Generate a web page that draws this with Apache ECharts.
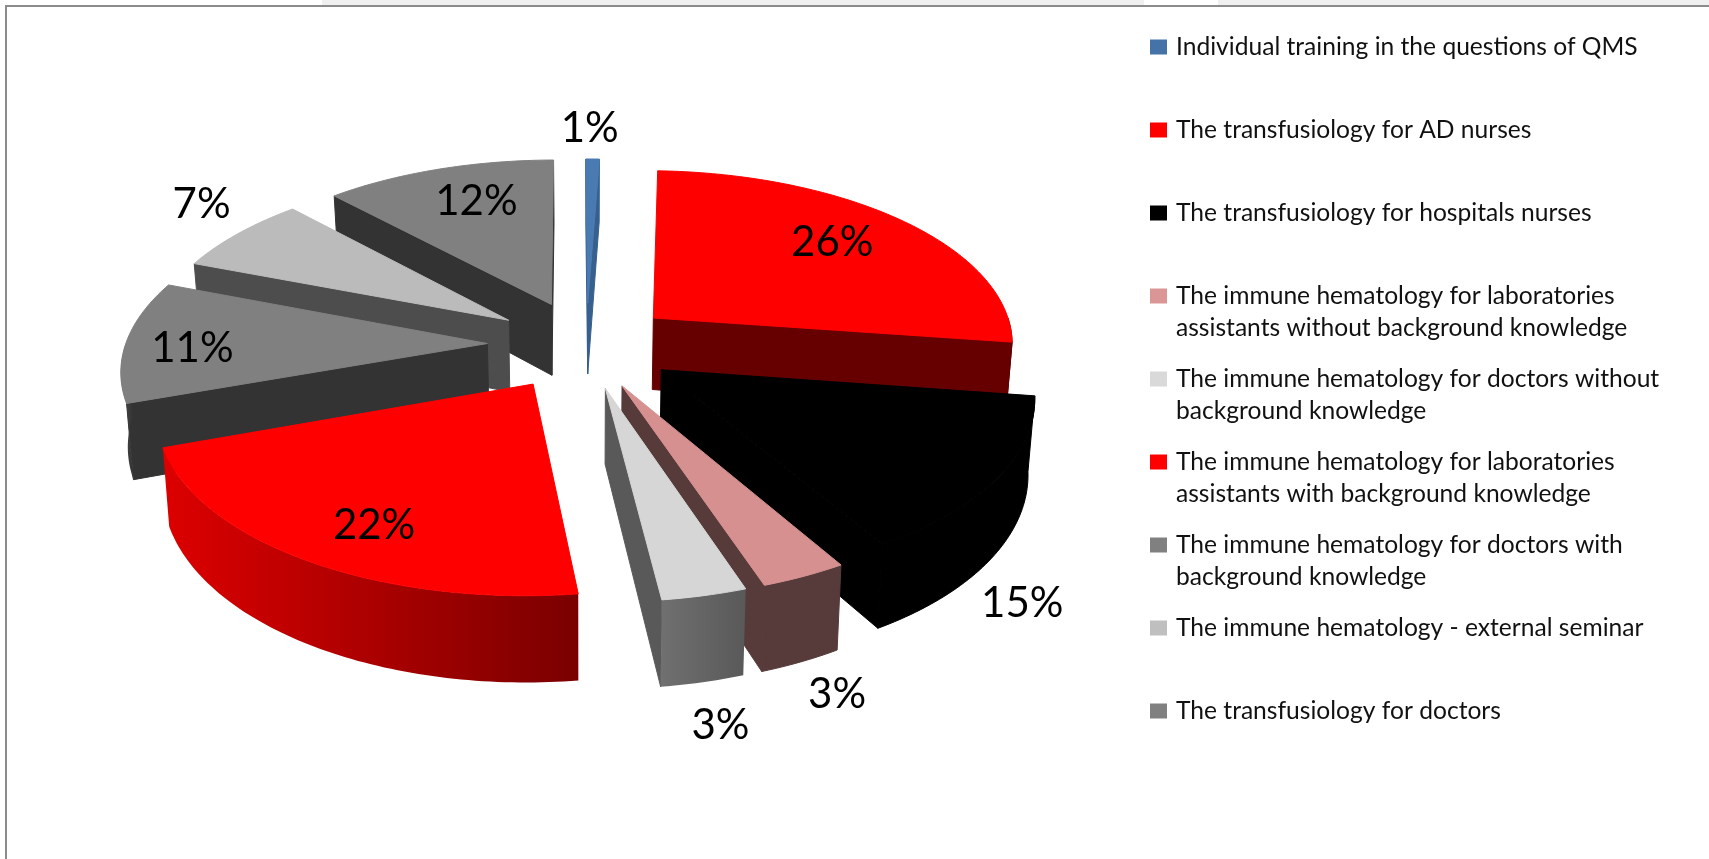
<!DOCTYPE html>
<html>
<head>
<meta charset="utf-8">
<style>html,body{margin:0;padding:0;background:#fff}#c{width:1709px;height:859px}</style>
<script src="https://cdn.jsdelivr.net/npm/echarts@6/dist/echarts.min.js"></script>
</head>
<body>
<div id="c"></div>
<script>
// ---- data ----
const categories = [
  'Individual training in the questions of QMS',
  'The transfusiology for AD nurses',
  'The transfusiology for hospitals nurses',
  'The immune hematology for laboratories\nassistants without background knowledge',
  'The immune hematology for doctors without\nbackground knowledge',
  'The immune hematology for laboratories\nassistants with background knowledge',
  'The immune hematology for doctors with\nbackground knowledge',
  'The immune hematology - external seminar',
  'The transfusiology for doctors'
];
const values = [1, 26, 15, 3, 3, 22, 11, 7, 12];

// ---- styles ----
const legendColors = ['#4573A7', '#FF0000', '#000000', '#D99694', '#D9D9D9', '#FF0000', '#808080', '#BFBFBF', '#808080'];
const topColors    = ['#4A7AB2', '#FF0000', '#000000', '#D69090', '#D6D6D6', '#FF0000', '#808080', '#BBBBBB', '#808080'];
const sideColors   = ['#37608F', '#660000', '#000000', '#573B3B', '#595959', '#7A0000', '#333333', '#4D4D4D', '#333333'];
const arcStops     = [null, null, null, null, ['#707070', '#595959'], ['#DD0000', '#7A0000'], ['#4A4A4A', '#333333'], null, null];

// ---- layout of the tilted pie ----
const CX = 585, CY = 345, RX = 362, RY = 173, PERSP = 0.13, DEPTH = 73, BOTTOM_SCALE = 0.985;
// the source's values are rounded and its 3-D view warps angles: small per-boundary corrections, in degrees
const boundaryNudge = [-0.3, -1.4, 1, -1.7, -0.7, 0.1, -1.4, -0.8, 0];
const explode = [0.25, 0.25, 0.25, 0.25, 0.25, 0.26, 0.27, 0.26, 0.26];
// label centres, relative to each slice's apex
const labelOffsets = [[2,-175],[179,-76],[361,234],[215,309],[115,337],[-159,141],[-295,5],[-307,-116],[-75,-103]];
const LEG_LEFT = 1150, LEG_FIRST = 47, LEG_STEP = 83, LEG_LINE = 32;

const total = values.reduce((a, b) => a + b, 0);
const rad = d => d * Math.PI / 180;
let acc = 0;
const slices = values.map((v, i) => {
  const base = acc / total * 360; acc += v;
  const baseEnd = acc / total * 360;
  const start = base + boundaryNudge[i];
  const end = baseEnd + boundaryNudge[(i + 1) % values.length];
  const mid = rad((base + baseEnd) / 2);
  return { i, start, end, ex: explode[i] * Math.sin(mid), ey: -explode[i] * Math.cos(mid) };
});
function project(X, Y, level) {
  const s = 1 / (1 - PERSP * Y);
  return [CX + RX * X * s * (level ? BOTTOM_SCALE : 1), CY + RY * Y * s + level * DEPTH * s];
}
function rim(sl, deg, level) {
  return project(sl.ex + Math.sin(rad(deg)), sl.ey - Math.cos(rad(deg)), level);
}
function area(p) {
  let a = 0;
  for (let k = 0; k < p.length; k++) {
    const q = p[(k + 1) % p.length];
    a += p[k][0] * q[1] - q[0] * p[k][1];
  }
  return a;
}
function poly(points, fill) {
  return { type: 'polygon', shape: { points }, style: { fill, stroke: fill, lineWidth: 1 } };
}
function arcPoints(sl, a, b, level) {
  const pts = [];
  const n = Math.max(2, Math.ceil(b - a));
  for (let k = 0; k <= n; k++) pts.push(rim(sl, a + (b - a) * k / n, level));
  return pts;
}
function drawSlice(params, api) {
  const i = order[params.seriesIndex];
  const sl = slices[i];
  const kids = [];
  const a0 = project(sl.ex, sl.ey, 0), a1 = project(sl.ex, sl.ey, 1);
  // radial walls that face the viewer
  const startWall = [a0, rim(sl, sl.start, 0), rim(sl, sl.start, 1), a1];
  const endWall = [a0, rim(sl, sl.end, 0), rim(sl, sl.end, 1), a1];
  if (area(startWall) < 0) kids.push(poly(startWall, sideColors[i]));
  if (area(endWall) > 0) kids.push(poly(endWall, sideColors[i]));
  // rim wall: the part of the arc on the near side
  const from = Math.max(sl.start, 90), to = Math.min(sl.end, 270);
  if (to > from) {
    const pts = arcPoints(sl, from, to, 0).concat(arcPoints(sl, from, to, 1).reverse());
    if (arcStops[i]) {
      kids.push({ type: 'polygon', shape: { points: pts }, style: {
        fill: { type: 'linear', x: 0, y: 0, x2: 1, y2: 0, global: false,
          colorStops: [{ offset: 0, color: arcStops[i][0] }, { offset: 1, color: arcStops[i][1] }] } } });
    } else {
      kids.push(poly(pts, sideColors[i]));
    }
  }
  // top face
  kids.push(poly([a0].concat(arcPoints(sl, sl.start, sl.end, 0)), topColors[i]));
  return { type: 'group', children: kids };
}
function drawLabel(params, api) {
  const i = params.dataIndex;
  const a0 = project(slices[i].ex, slices[i].ey, 0);
  return { type: 'text', x: a0[0] + labelOffsets[i][0], y: a0[1] + labelOffsets[i][1],
    style: { text: api.value(0) + '%', fontFamily: 'Lato', fontSize: 42, fill: '#000', align: 'center', verticalAlign: 'middle' } };
}
// far slices first, so near slices cover them
const order = slices.slice().sort((a, b) => a.ey - b.ey).map(s => s.i);

const series = order.map(i => ({
  type: 'custom', name: categories[i], coordinateSystem: 'none', renderItem: drawSlice,
  itemStyle: { color: legendColors[i] }, data: [[values[i]]], silent: true, animation: false, z: 2
}));
series.push({
  type: 'custom', name: 'labels', coordinateSystem: 'none', renderItem: drawLabel,
  data: values.map(v => [v]), silent: true, animation: false, z: 5
});

const legends = categories.map((name, i) => {
  const lines = name.split('\n').length;
  const half = LEG_LINE * (2 * lines - 1) / 2;
  return {
    data: [name], left: LEG_LEFT, top: LEG_FIRST + i * LEG_STEP - half, padding: 0,
    icon: 'rect', itemWidth: 17, itemHeight: 15, itemGap: 0, selectedMode: false, orient: 'vertical',
    // a leading empty line keeps the marker level with the first line of a wrapped name
    formatter: n => (lines > 1 ? '\n' : '') + n,
    textStyle: { fontFamily: 'Lato', fontSize: 24.6, color: '#111', lineHeight: LEG_LINE, padding: [0, 0, 0, 4] }
  };
});

const chart = echarts.init(document.getElementById('c'), null, { renderer: 'canvas' });
chart.setOption({
  backgroundColor: '#fff',
  animation: false,
  legend: legends,
  graphic: [
    { type: 'rect', shape: { x: 322, y: 0, width: 822, height: 6 }, style: { fill: '#F0F0F0' }, silent: true },
    { type: 'rect', shape: { x: 1218, y: 0, width: 491, height: 6 }, style: { fill: '#F0F0F0' }, silent: true },
    { type: 'rect', shape: { x: 6, y: 5, width: 1703, height: 2 }, style: { fill: '#8C8C8C' }, silent: true },
    { type: 'rect', shape: { x: 5, y: 5, width: 2, height: 854 }, style: { fill: '#8C8C8C' }, silent: true }
  ],
  series
});
</script>
</body>
</html>
